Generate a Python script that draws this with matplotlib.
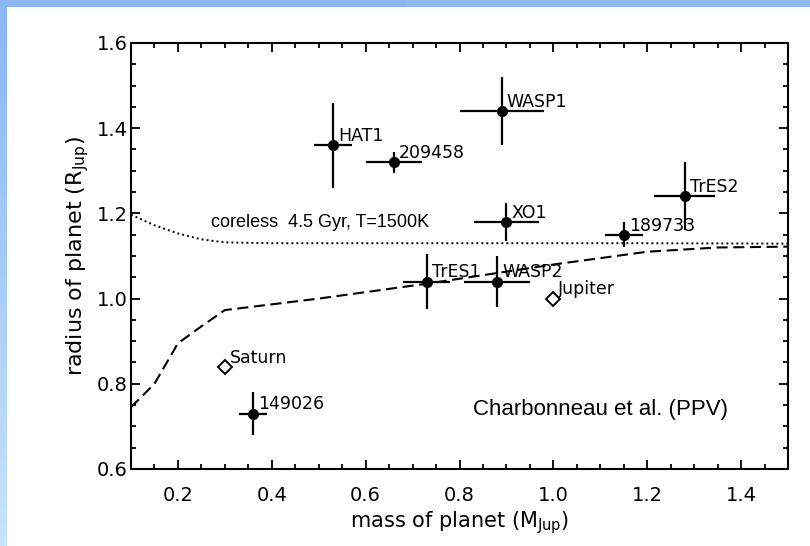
import numpy as np
import matplotlib.pyplot as plt
from matplotlib.colors import LinearSegmentedColormap
from matplotlib.ticker import MultipleLocator

plt.rcParams['lines.scale_dashes'] = False

# transiting planets (mass, radius in Jupiter units) with error bars
names = ['HAT1', '209458', 'WASP1', 'XO1', 'TrES2', '189733', 'TrES1', 'WASP2', '149026']
mass = [0.53, 0.66, 0.89, 0.90, 1.28, 1.15, 0.73, 0.88, 0.36]
radius = [1.36, 1.32, 1.44, 1.18, 1.24, 1.15, 1.04, 1.04, 0.73]
mass_err = [0.04, 0.06, 0.09, 0.07, 0.065, 0.04, 0.05, 0.07, 0.03]
radius_err = [0.10, 0.025, 0.08, 0.045, 0.08, 0.03, 0.065, 0.06, 0.05]

# solar system giants
solar_names = ['Saturn', 'Jupiter']
solar_mass = [0.30, 1.00]
solar_radius = [0.84, 1.00]

# model curves
coreless_m = [0.10, 0.15, 0.20, 0.25, 0.30, 0.40, 0.60, 0.80, 1.00, 1.20, 1.50]
coreless_r = [1.197, 1.172, 1.153, 1.139, 1.132, 1.130, 1.130, 1.130, 1.130, 1.130, 1.129]
core_m = [0.10, 0.15, 0.20, 0.25, 0.30, 0.50, 0.73, 1.00, 1.20, 1.35, 1.50]
core_r = [0.745, 0.80, 0.895, 0.935, 0.973, 1.000, 1.035, 1.080, 1.110, 1.120, 1.122]

fig = plt.figure(figsize=(8.1, 5.46), dpi=100)

# slide border (blue bands on top and left)
top = fig.add_axes([0, 1 - 7/546, 1, 7/546])
top.set_axis_off()
top.imshow([[0, 1]], cmap=LinearSegmentedColormap.from_list('b', ['#8ab6f4', '#8cbaf6']),
           aspect='auto', extent=(0, 1, 0, 1))
left = fig.add_axes([0, 0, 7/810, 1 - 7/546])
left.set_axis_off()
grad = np.linspace(0, 1, 100).reshape(-1, 1)
left.imshow(grad, cmap=LinearSegmentedColormap.from_list('g', ['#8ab6f4', '#c6e4fb']),
            aspect='auto', extent=(0, 1, 0, 1))

ax = fig.add_axes([131/810, 1 - 469/546, 657/810, 426/546])

ax.plot(coreless_m, coreless_r, color='black', lw=1.4, linestyle=(0, (1.4, 2.2)))
ax.plot(core_m, core_r, color='black', lw=1.5, linestyle=(0, (8, 4)))

ax.errorbar(mass, radius, xerr=mass_err, yerr=radius_err, fmt='o', color='black',
            markersize=7, elinewidth=1.6, capsize=0)
ax.plot(solar_mass, solar_radius, 'D', markerfacecolor='white', markeredgecolor='black',
        markeredgewidth=1.4, markersize=7)

for n, m, r in zip(names + solar_names, mass + solar_mass, radius + solar_radius):
    ax.annotate(n, (m, r), xytext=(3.6, 3), textcoords='offset points',
                fontsize=12.5, va='baseline', ha='left')

ax.text(0.27, 1.168, 'coreless  4.5 Gyr, T=1500K', fontsize=13,
        family='Liberation Sans', va='baseline')
ax.text(0.828, 0.727, 'Charbonneau et al. (PPV)', fontsize=16,
        family='Liberation Sans', va='baseline')

ax.set_xlim(0.1, 1.5)
ax.set_ylim(0.6, 1.6)
ax.xaxis.set_major_locator(MultipleLocator(0.2))
ax.xaxis.set_minor_locator(MultipleLocator(0.05))
ax.yaxis.set_major_locator(MultipleLocator(0.2))
ax.yaxis.set_minor_locator(MultipleLocator(0.05))
ax.set_xticks([0.2, 0.4, 0.6, 0.8, 1.0, 1.2, 1.4])
ax.tick_params(which='both', direction='in', top=True, right=True, width=1.3)
ax.tick_params(which='major', length=6.5)
ax.tick_params(which='minor', length=3.3)
ax.tick_params(axis='x', labelsize=14, pad=12)
ax.tick_params(axis='y', labelsize=14, pad=2.5)
for s in ax.spines.values():
    s.set_linewidth(1.5)

ax.set_xlabel('mass of planet (M$_{\\rm Jup}$)', fontsize=15, labelpad=3)
ax.set_ylabel('radius of planet (R$_{\\rm Jup}$)', fontsize=16, labelpad=4)

fig.savefig('out.png', dpi=100)
